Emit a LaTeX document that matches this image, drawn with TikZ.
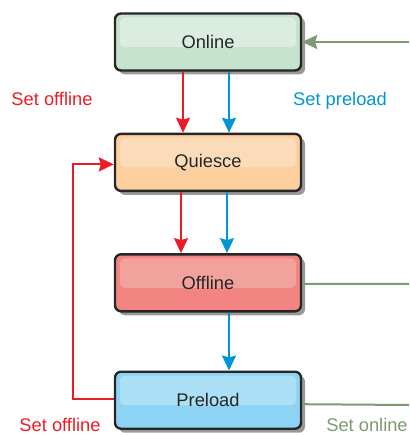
\documentclass[tikz,border=0pt]{standalone}
\usepackage{fontspec}
\setmainfont{Liberation Sans}
\usepackage{xcolor}
\usepackage{tikz}
\usetikzlibrary{
	arrows.meta, 
	positioning, 
	shadows
}
\definecolor{setred}{HTML}{ED1C24}
\definecolor{setblue}{HTML}{0096D6}
\definecolor{setgreen}{HTML}{7E9A72}
\definecolor{onlinefill}{HTML}{C6E3CF}
\definecolor{onlinehi}{HTML}{DAEDE0}
\definecolor{quiescefill}{HTML}{FDCF9E}
\definecolor{quiescehi}{HTML}{FCDCB8}
\definecolor{offlinefill}{HTML}{F28582}
\definecolor{offlinehi}{HTML}{F2A29D}
\definecolor{preloadfill}{HTML}{8DD4F4}
\definecolor{preloadhi}{HTML}{ABE0F6}
\tikzset{
	state/.style 2 args={draw=black!85, line width=2.4pt, rounded corners=6pt, fill=#1,
		minimum width=186pt, minimum height=57pt, text=black!85,
		font=\fontsize{18.3}{21}\selectfont,
		drop shadow={shadow xshift=4pt, shadow yshift=-4pt, fill=black!40, opacity=1},
		path picture={\fill[#2, rounded corners=5pt]
			([xshift=5pt, yshift=-4pt]path picture bounding box.north west) rectangle
			([xshift=-5pt, yshift=-5pt]path picture bounding box.east);}},
	trans/.style={line width=2pt, -{Stealth[length=15pt, width=14pt, inset=2pt]}},
	lbl/.style={anchor=base, font=\fontsize{18.3}{21}\selectfont}
}

\begin{document}
	\begin{tikzpicture}[x=1pt, y=-1pt]
		\useasboundingbox (0,0) rectangle (409,435);
		\node[state={onlinefill}{onlinehi}] (online) at (208,42) {Online};
		\node[state={quiescefill}{quiescehi}, below=61pt of online] (quiesce) {Quiesce};
		\node[state={offlinefill}{offlinehi}, below=61pt of quiesce] (offline) {Offline};
		\node[state={preloadfill}{preloadhi}, below=58pt of offline] (preload) {Preload};
		\coordinate (inonline) at (409,42);
		\coordinate (outoffline) at (409,284);
		\coordinate (outpreload) at (409,405);
		\draw[trans, setred] ([xshift=-25pt]online.south) -- ([xshift=-25pt]quiesce.north);
		\draw[trans, setblue] ([xshift=21pt]online.south) -- ([xshift=21pt]quiesce.north);
		\draw[trans, setred] ([xshift=-27pt]quiesce.south) -- ([xshift=-27pt]offline.north);
		\draw[trans, setblue] ([xshift=19pt]quiesce.south) -- ([xshift=19pt]offline.north);
		\draw[trans, setblue] ([xshift=21pt]offline.south) -- ([xshift=21pt]preload.north);
		\draw[trans, setred] ([yshift=1pt]preload.west) -- ++(-41,0) |- ([yshift=-2pt]quiesce.west);
		\draw[trans, setgreen] (inonline) -- (online.east);
		\draw[line width=2pt, setgreen] ([yshift=-1pt]offline.east) -- (outoffline);
		\draw[line width=2pt, setgreen] ([yshift=-4pt]preload.east) -- (outpreload);
		\node[lbl, setred] (setoff1) at (52,106) {Set offline};
		\node[lbl, setblue] (setpre) at (340,106) {Set preload};
		\node[lbl, setred] (setoff2) at (60,431) {Set offline};
		\node[lbl, setgreen] (seton) at (367,431) {Set online};
	\end{tikzpicture}
\end{document}
